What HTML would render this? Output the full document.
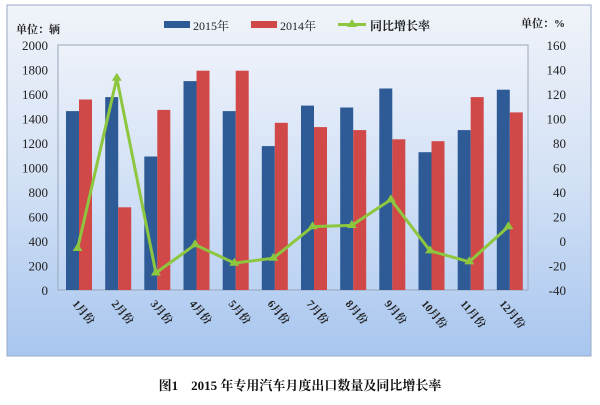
<!DOCTYPE html>
<html><head><meta charset="utf-8"><style>
body{margin:0;width:600px;height:400px;background:#fff;overflow:hidden}
text{font-family:"Liberation Serif","Noto Serif CJK SC",serif}
</style></head><body>
<svg width="600" height="400" xmlns="http://www.w3.org/2000/svg">
<defs>
<linearGradient id="og" x1="0" y1="0" x2="0" y2="1"><stop offset="0" stop-color="#f0f3f9"/><stop offset="0.5" stop-color="#d3e1f5"/><stop offset="1" stop-color="#a8c6ef"/></linearGradient>
<linearGradient id="pg" x1="0" y1="0" x2="0" y2="1"><stop offset="0" stop-color="#eef2fa"/><stop offset="1" stop-color="#bcd3f3"/></linearGradient>
</defs>
<rect x="7" y="5" width="584" height="351" fill="url(#og)" stroke="#9aaac4"/>
<rect x="58" y="45" width="470" height="245" fill="url(#pg)" stroke="#9aa6b8"/>
<g fill="#2e5b95">
<rect x="66" y="111.1" width="13" height="178.9"/><rect x="105.2" y="97.1" width="13" height="192.9"/><rect x="144.3" y="156.5" width="13" height="133.5"/><rect x="183.5" y="81.1" width="13" height="208.9"/><rect x="222.7" y="111.1" width="13" height="178.9"/><rect x="261.8" y="146.1" width="13" height="143.9"/><rect x="301" y="105.6" width="13" height="184.4"/><rect x="340.2" y="107.5" width="13" height="182.5"/><rect x="379.3" y="88.5" width="13" height="201.5"/><rect x="418.5" y="152.2" width="13" height="137.8"/><rect x="457.7" y="130.1" width="13" height="159.9"/><rect x="496.8" y="89.7" width="13" height="200.3"/>
</g>
<g fill="#d04848">
<rect x="79" y="99.5" width="13" height="190.5"/><rect x="118.2" y="207.3" width="13" height="82.7"/><rect x="157.3" y="109.9" width="13" height="180.1"/><rect x="196.5" y="70.7" width="13" height="219.3"/><rect x="235.7" y="70.7" width="13" height="219.3"/><rect x="274.8" y="122.8" width="13" height="167.2"/><rect x="314" y="127.1" width="13" height="162.9"/><rect x="353.2" y="130.1" width="13" height="159.9"/><rect x="392.3" y="139.3" width="13" height="150.7"/><rect x="431.5" y="141.2" width="13" height="148.8"/><rect x="470.7" y="97.1" width="13" height="192.9"/><rect x="509.8" y="112.4" width="13" height="177.6"/>
</g>
<polyline fill="none" stroke="#8dc63f" stroke-width="3" points="77.6,248.4 116.8,78.1 155.9,272.9 195.1,244.7 234.3,263.1 273.4,258.2 312.6,226.6 351.8,225.4 390.9,199.6 430.1,250.8 469.3,261.8 508.4,226.6"/>
<g fill="#8dc63f">
<path d="M77.6,243l5,8h-10z"/><path d="M116.8,72.7l5,8h-10z"/><path d="M155.9,267.5l5,8h-10z"/><path d="M195.1,239.3l5,8h-10z"/><path d="M234.3,257.7l5,8h-10z"/><path d="M273.4,252.8l5,8h-10z"/><path d="M312.6,221.2l5,8h-10z"/><path d="M351.8,220l5,8h-10z"/><path d="M390.9,194.2l5,8h-10z"/><path d="M430.1,245.4l5,8h-10z"/><path d="M469.3,256.4l5,8h-10z"/><path d="M508.4,221.2l5,8h-10z"/>
</g>
<g font-size="13" fill="#222" text-anchor="end">
<text x="48" y="50">2000</text><text x="48" y="74.5">1800</text><text x="48" y="99">1600</text><text x="48" y="123.5">1400</text><text x="48" y="148">1200</text><text x="48" y="172.5">1000</text><text x="48" y="197">800</text><text x="48" y="221.5">600</text><text x="48" y="246">400</text><text x="48" y="270.5">200</text><text x="48" y="295">0</text>
</g>
<g font-size="13" fill="#222" text-anchor="end">
<text x="566" y="50">160</text><text x="566" y="74.5">140</text><text x="566" y="99">120</text><text x="566" y="123.5">100</text><text x="566" y="148">80</text><text x="566" y="172.5">60</text><text x="566" y="197">40</text><text x="566" y="221.5">20</text><text x="566" y="246">0</text><text x="566" y="270.5">-20</text><text x="566" y="295">-40</text>
</g>
<g font-size="11" font-weight="bold" fill="#222">
<text x="16" y="33">单位：辆</text><text x="521" y="27">单位：%</text>
</g>
<rect x="164" y="21" width="26" height="7" fill="#2e5b95"/><text x="193" y="30" font-size="12" fill="#222">2015年</text>
<rect x="251" y="21" width="26" height="7" fill="#d04848"/><text x="280" y="30" font-size="12" fill="#222">2014年</text>
<line x1="338" y1="24.5" x2="366" y2="24.5" stroke="#8dc63f" stroke-width="3"/><path d="M352,19l5,8h-10z" fill="#8dc63f"/><text x="370" y="30" font-size="12" font-weight="bold" fill="#222">同比增长率</text>
<g font-size="11" font-weight="bold" fill="#222">
<text transform="translate(72,304) rotate(50)">1月份</text><text transform="translate(111,304) rotate(50)">2月份</text><text transform="translate(150,304) rotate(50)">3月份</text><text transform="translate(189,304) rotate(50)">4月份</text><text transform="translate(228,304) rotate(50)">5月份</text><text transform="translate(267,304) rotate(50)">6月份</text><text transform="translate(306,304) rotate(50)">7月份</text><text transform="translate(345,304) rotate(50)">8月份</text><text transform="translate(384,304) rotate(50)">9月份</text><text transform="translate(421,304) rotate(50)">10月份</text><text transform="translate(460,304) rotate(50)">11月份</text><text transform="translate(499,304) rotate(50)">12月份</text>
</g>
<text x="300" y="390" font-size="13" font-weight="bold" text-anchor="middle" fill="#111">图1　2015 年专用汽车月度出口数量及同比增长率</text>
</svg>
</body></html>
